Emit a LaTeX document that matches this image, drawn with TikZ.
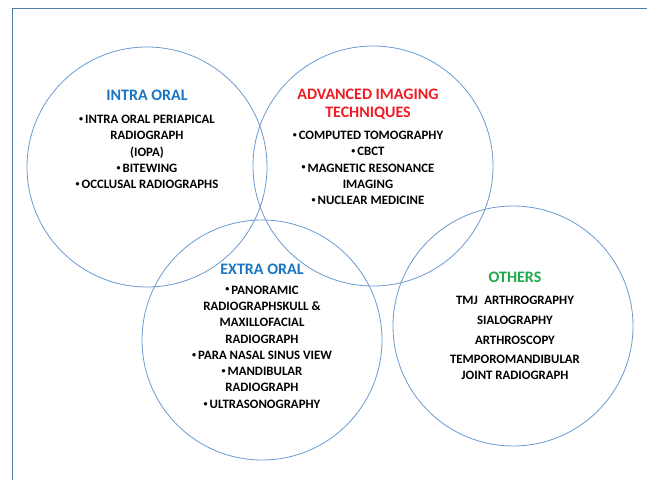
\documentclass[tikz,border=0pt]{standalone}
\usepackage{fontspec}
\setmainfont{Carlito}
\usepackage{tikz}
\usetikzlibrary{positioning}

\definecolor{ringblue}{HTML}{6A9AD0}
\definecolor{frameblue}{HTML}{4F7BA6}
\definecolor{headblue}{HTML}{1A75C2}
\definecolor{headred}{HTML}{EE1C24}
\definecolor{headgreen}{HTML}{1EA84B}
\newcommand{\blt}{\raisebox{0.35ex}{\fontsize{8}{8}\selectfont •}\hspace{2pt}}

\begin{document}
\begin{tikzpicture}[x=1pt, y=-1pt,
		ring/.style={circle, draw=ringblue, line width=0.8pt, minimum size=240pt, inner sep=0pt},
		head/.style={font=\fontsize{16}{18}\selectfont\bfseries, align=center},
		items/.style={font=\fontsize{12.8}{16.3}\selectfont\bfseries, align=center}]
			\useasboundingbox (0, 0) rectangle (647, 480);
			\draw [frameblue, line width=0.9pt] (12, 480) -- (12, 8) -- (647, 8);
			% the four circles
			\node at (147, 167) [ring] (intra) {};
			\node at (373, 166) [ring] (advanced) {};
			\node at (262, 340) [ring] (extra) {};
			\node at (513, 326) [ring] (others) {};
			% intra oral
			\node at (147, 95) [head, text=headblue] (intrahead) {INTRA ORAL};
			\node at (147, 152) [items] (intralist) {\blt INTRA ORAL PERIAPICAL\\RADIOGRAPH\\(IOPA)\\\blt BITEWING\\\blt OCCLUSAL RADIOGRAPHS};
			% advanced imaging
			\node at (368, 104) [head, text=headred] (advhead) {ADVANCED IMAGING\\TECHNIQUES};
			\node at (368, 168) [items] (advlist) {\blt COMPUTED TOMOGRAPHY\\\blt CBCT\\\blt MAGNETIC RESONANCE\\IMAGING\\\blt NUCLEAR MEDICINE};
			% extra oral
			\node at (262, 269) [head, text=headblue] (extrahead) {EXTRA ORAL};
			\node at (262, 347) [items] (extralist) {\blt PANORAMIC\\RADIOGRAPHSKULL \&\\MAXILLOFACIAL\\RADIOGRAPH\\\blt PARA NASAL SINUS VIEW\\\blt MANDIBULAR\\RADIOGRAPH\\\blt ULTRASONOGRAPHY};
			% others
			\node at (515, 277) [head, text=headgreen] (othhead) {OTHERS};
			\node at (515, 338) [items] (othlist) {TMJ\enspace ARTHROGRAPHY\\[4pt]SIALOGRAPHY\\[3.5pt]ARTHROSCOPY\\[2.5pt]TEMPOROMANDIBULAR\\JOINT RADIOGRAPH};
		\end{tikzpicture}
\end{document}
